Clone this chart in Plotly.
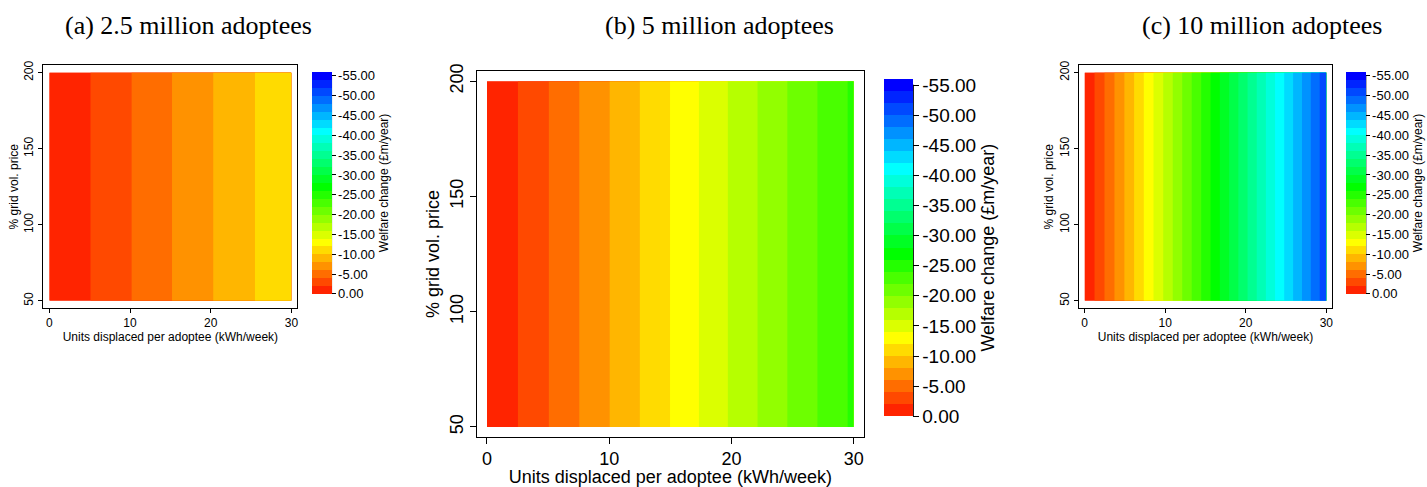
import colorsys
import plotly.graph_objects as go

# ---------------- data ----------------
units_displaced = [0, 5, 10, 15, 20, 25, 30]          # kWh/week
grid_price_pct = [50, 200]                              # % grid vol. price
welfare_a = [0.00, -1.96, -3.92, -5.92, -7.88, -9.82, -11.70]    # 2.5 million
welfare_b = [0.00, -3.95, -7.97, -12.02, -16.25, -20.35, -24.40]  # 5 million
welfare_c = [0.00, -8.10, -16.40, -24.90, -33.60, -42.40, -51.50]  # 10 million
panel_titles = ["(a) 2.5 million adoptees", "(b) 5 million adoptees", "(c) 10 million adoptees"]
cbar_ticks = [0, -5, -10, -15, -20, -25, -30, -35, -40, -45, -50, -55]
x_ticks = [0, 10, 20, 30]
y_ticks = [50, 100, 150, 200]
level_size = 2.0
level_max = 56.0
x_title = "Units displaced per adoptee (kWh/week)"
y_title = "% grid vol. price"
cbar_title = "Welfare change (£m/year)"

W, H = 1427, 487

# discrete hue colour scale: 28 bins from red to blue
nbins = int(level_max / level_size)
colorscale = []
for k in range(nbins):
    h = (k + 1) * 240.0 / nbins / 360.0
    r, g, b = colorsys.hsv_to_rgb(h, 1, 1)
    col = "rgb(%d,%d,%d)" % (round(r * 255), round(g * 255), round(b * 255))
    colorscale.append([k / nbins, col])
    colorscale.append([(k + 1) / nbins, col])

# layout geometry (pixels)
panels = [
    dict(data=welfare_a, frame=(43.3, 297.7, 58.4, 305.0), xr=(-0.75, 30.75), yr=(45.3, 204.7),
         cb=dict(x=312.3, top=69.0, bot=290.7, th=19.5), tick=12, lab=12, cbl=13, cbt=12, tl=4,
         xs=1, ys=1),
    dict(data=welfare_b, frame=(477.3, 864.3, 64.3, 436.0), xr=(-0.82, 30.82), yr=(45.7, 204.3),
         cb=dict(x=885.0, top=78.0, bot=415.0, th=29.0), tick=18, lab=18, cbl=19, cbt=18, tl=6,
         xs=0, ys=2),
    dict(data=welfare_c, frame=(1079.3, 1333.3, 58.4, 305.0), xr=(-0.75, 30.75), yr=(45.3, 204.7),
         cb=dict(x=1347.3, top=69.0, bot=290.7, th=19.5), tick=12, lab=12, cbl=13, cbt=12, tl=4,
         xs=1, ys=1),
]
title_x = [189, 720, 1263]

fig = go.Figure()
layout = dict(width=W, height=H, margin=dict(l=0, r=0, t=0, b=0), autosize=False,
              paper_bgcolor="white", plot_bgcolor="white", showlegend=False,
              font=dict(family="Liberation Sans, Arial", color="black"))
annotations = []
shapes = []
for i, p in enumerate(panels):
    sfx = "" if i == 0 else str(i + 1)
    mag = [-v for v in p["data"]]
    z = [mag for _ in grid_price_pct]
    cb = p["cb"]
    fig.add_trace(go.Contour(
        x=units_displaced, y=grid_price_pct, z=z,
        xaxis="x" + sfx, yaxis="y" + sfx,
        zmin=0, zmax=level_max, autocontour=False,
        contours=dict(start=0, end=level_max, size=level_size, coloring="fill", showlines=False),
        line=dict(width=0, smoothing=0),
        colorscale=colorscale,
        colorbar=dict(
            x=cb["x"] / W, xanchor="left", xpad=0, ypad=0,
            y=1 - cb["bot"] / H, yanchor="bottom", lenmode="pixels", len=cb["bot"] - cb["top"],
            thickness=cb["th"], thicknessmode="pixels", outlinewidth=0,
            tickmode="array", tickvals=[-t for t in cbar_ticks],
            ticktext=["%.2f" % t for t in cbar_ticks],
            ticks="outside", ticklen=p["tl"], tickcolor="black",
            tickfont=dict(size=p["cbl"], color="black"),
            title=dict(text=cbar_title, side="right", font=dict(size=p["cbt"], color="black")),
        ),
        hoverinfo="skip",
    ))
    l, r, t, b = p["frame"]
    layout["xaxis" + sfx] = dict(domain=[l / W, r / W], anchor="y" + sfx, range=list(p["xr"]),
                                 showgrid=False, zeroline=False, showline=True, mirror=True,
                                 linecolor="black", linewidth=1, ticks="outside", ticklen=p["tl"],
                                 tickcolor="black", tickvals=x_ticks, tickfont=dict(size=p["tick"]),
                                 title=dict(text=x_title, font=dict(size=p["lab"]), standoff=p["xs"]))
    layout["yaxis" + sfx] = dict(domain=[1 - b / H, 1 - t / H], anchor="x" + sfx, range=list(p["yr"]),
                                 showgrid=False, zeroline=False, showline=True, mirror=True,
                                 linecolor="black", linewidth=1, ticks="outside", ticklen=p["tl"],
                                 tickcolor="black", tickvals=y_ticks, tickangle=-90,
                                 tickfont=dict(size=p["tick"]),
                                 title=dict(text=y_title, font=dict(size=p["lab"]), standoff=p["ys"]))
    # dark right edge of the colour bar
    xe = (cb["x"] + cb["th"]) / W
    shapes.append(dict(type="line", xref="paper", yref="paper", x0=xe, x1=xe,
                       y0=1 - cb["bot"] / H, y1=1 - cb["top"] / H,
                       line=dict(color="black", width=1)))
    annotations.append(dict(text=panel_titles[i], xref="paper", yref="paper",
                            x=title_x[i] / W, y=1 - 18 / H, xanchor="center", yanchor="middle",
                            showarrow=False, font=dict(family="Liberation Serif, serif", size=26,
                                                       color="black")))
layout["annotations"] = annotations
layout["shapes"] = shapes
fig.update_layout(**layout)
fig.write_html("out.html")
